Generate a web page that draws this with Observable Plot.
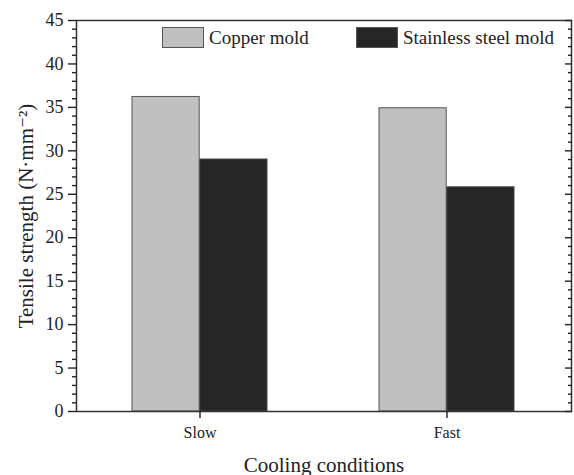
<!DOCTYPE html>
<html>
<head>
<meta charset="utf-8">
<script src="https://cdn.jsdelivr.net/npm/d3@7"></script>
<script src="https://cdn.jsdelivr.net/npm/@observablehq/plot@0.6"></script>
<style>
  html, body { margin: 0; padding: 0; background: #fff; }
  #wrap { position: relative; width: 574px; height: 475px; font-family: "Liberation Serif", "DejaVu Serif", serif; color: #222; }
  #wrap svg { font-family: "Liberation Serif", "DejaVu Serif", serif !important; }
  [aria-label="y-axis label"] text, [aria-label="x-axis label"] text { font-size: 21px; }
  .legend { position: absolute; top: 27px; display: flex; align-items: center; font-size: 19px; line-height: 21px; }
  .sw { width: 42px; height: 21px; border: 1px solid #555; margin-right: 5px; box-sizing: border-box; }
</style>
</head>
<body>
<div id="wrap"></div>
<script>
const conditions = ["Slow", "Fast"];
const molds = ["Copper mold", "Stainless steel mold"];
const copper = [36.2, 34.9];
const stainless = [29.0, 25.8];
const colors = ["#c0c0c0", "#262626"];
const majorTicks = [0, 5, 10, 15, 20, 25, 30, 35, 40, 45];
const minorTicks = d3.range(0, 46, 1).filter(v => v % 5 !== 0);

const copperData = conditions.map((c, i) => ({condition: c, value: copper[i]}));
const steelData = conditions.map((c, i) => ({condition: c, value: stainless[i]}));

const halfBand = 67.8;

const chart = Plot.plot({
  width: 574,
  height: 475,
  marginLeft: 76,
  marginRight: 3,
  marginTop: 20,
  marginBottom: 64,
  style: {color: "#222", background: "#fff"},
  x: {domain: conditions, paddingInner: 0.452, paddingOuter: 0.226},
  y: {domain: [0, 45]},
  marks: [
    Plot.barY(copperData, {x: "condition", y: "value", fill: colors[0], stroke: "#555", strokeWidth: 1, insetRight: halfBand}),
    Plot.barY(steelData, {x: "condition", y: "value", fill: colors[1], stroke: "#444", strokeWidth: 1, insetLeft: halfBand}),
    Plot.frame({stroke: "#333", strokeWidth: 1.5}),
    Plot.axisY(majorTicks, {anchor: "left", tickSize: 8, tickPadding: 5, fontSize: 18, strokeWidth: 1.4,
      label: "Tensile strength (N·mm⁻²)", labelAnchor: "center", labelArrow: "none", labelOffset: 58}),
    Plot.axisY(minorTicks, {anchor: "left", tickSize: 4, text: null, label: null, strokeWidth: 1.4}),
    Plot.axisY(majorTicks, {anchor: "right", tickSize: -7, text: null, label: null, strokeWidth: 1.4}),
    Plot.axisY(minorTicks, {anchor: "right", tickSize: -4, text: null, label: null, strokeWidth: 1.4}),
    Plot.axisX({anchor: "bottom", tickSize: 7, tickPadding: 8, fontSize: 16, strokeWidth: 1.4,
      label: "Cooling conditions", labelAnchor: "center", labelArrow: "none", labelOffset: 60})
  ]
});

const wrap = document.getElementById("wrap");
wrap.appendChild(chart);

const legendLefts = [162, 356];
molds.forEach((m, i) => {
  const item = document.createElement("div");
  item.className = "legend";
  item.style.left = legendLefts[i] + "px";
  const sw = document.createElement("div");
  sw.className = "sw";
  sw.style.background = colors[i];
  const label = document.createElement("span");
  label.textContent = m;
  item.appendChild(sw);
  item.appendChild(label);
  wrap.appendChild(item);
});
</script>
</body>
</html>
